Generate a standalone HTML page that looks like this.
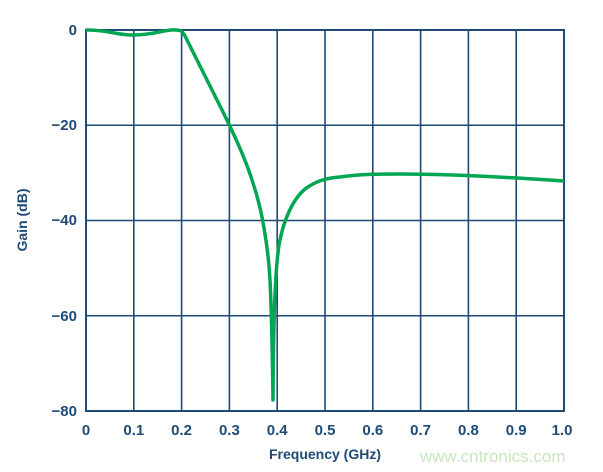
<!DOCTYPE html>
<html><head><style>body{margin:0;background:#fff}svg{display:block}</style></head><body>
<svg width="603" height="472" xmlns="http://www.w3.org/2000/svg" font-family="Liberation Sans, sans-serif">
<g stroke="#1f4a75" stroke-width="1.6">
<line x1="133.8" y1="30" x2="133.8" y2="411"/><line x1="181.6" y1="30" x2="181.6" y2="411"/>
<line x1="229.4" y1="30" x2="229.4" y2="411"/><line x1="277.2" y1="30" x2="277.2" y2="411"/>
<line x1="325" y1="30" x2="325" y2="411"/><line x1="372.8" y1="30" x2="372.8" y2="411"/>
<line x1="420.6" y1="30" x2="420.6" y2="411"/><line x1="468.4" y1="30" x2="468.4" y2="411"/>
<line x1="516.2" y1="30" x2="516.2" y2="411"/>
<line x1="86" y1="125.25" x2="564" y2="125.25"/><line x1="86" y1="220.5" x2="564" y2="220.5"/>
<line x1="86" y1="315.75" x2="564" y2="315.75"/>
<rect x="86" y="30" width="478" height="381" fill="none" stroke-width="2"/>
</g>
<path d="M86,30 C110,30 115,35 133,35 C155,35 165,29 176,30 C181,30 182,31 185,36 L222,110 C232,130 246,160 253,183 C258,198 261,210 264,228 C267,245 269,262 270,280 C271,300 272,330 273,400 C273.5,330 274.5,275 279,245 C283,222 292,200 305,189 C316,181 326,178 340,177 C360,174 380,174 400,174 C450,174 520,178 564,181" fill="none" stroke="#00a651" stroke-width="3.5" stroke-linejoin="round"/>
<g fill="#1f4a75" font-weight="bold" font-size="15">
<g text-anchor="end"><text x="77" y="35">0</text><text x="77" y="130">−20</text><text x="77" y="225">−40</text><text x="77" y="321">−60</text><text x="77" y="416">−80</text></g>
<g text-anchor="middle"><text x="86" y="435">0</text><text x="133.8" y="435">0.1</text><text x="181.6" y="435">0.2</text><text x="229.4" y="435">0.3</text><text x="277.2" y="435">0.4</text><text x="325" y="435">0.5</text><text x="372.8" y="435">0.6</text><text x="420.6" y="435">0.7</text><text x="468.4" y="435">0.8</text><text x="516.2" y="435">0.9</text><text x="562" y="435">1.0</text>
<text x="325" y="459" font-size="14">Frequency (GHz)</text>
<text transform="translate(27,220) rotate(-90)" font-size="14">Gain (dB)</text></g>
</g>
<text x="420" y="462" font-size="17" fill="#c8e6c0">www.cntronics.com</text>
</svg>
</body></html>
